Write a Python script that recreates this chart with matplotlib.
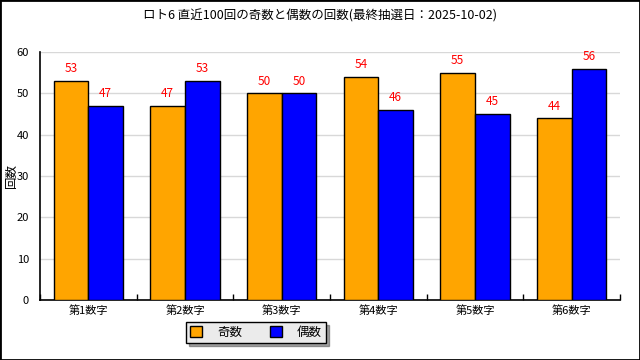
import numpy as np
import matplotlib
matplotlib.use("Agg")
import matplotlib.pyplot as plt
from matplotlib.patches import Rectangle

plt.rcParams['font.family'] = ['Noto Sans CJK JP', 'DejaVu Sans']

FONTSIZE = 8

title = "ロト6 直近100回の奇数と偶数の回数(最終抽選日：2025-10-02)"
categories = ["第1数字", "第2数字", "第3数字", "第4数字", "第5数字", "第6数字"]
odd_counts = [53, 47, 50, 54, 55, 44]
even_counts = [47, 53, 50, 46, 45, 56]
series_names = ["奇数", "偶数"]

fig = plt.figure(figsize=(6.4, 3.6), dpi=100)
fig.patches.append(Rectangle((0, 0), 1, 1, transform=fig.transFigure,
                             fill=False, ec='black', lw=2, zorder=10))
ax = fig.add_axes([0.0625, 0.1667, 0.90625, 0.6889])

x = np.arange(len(categories))
w = 0.357
b1 = ax.bar(x - w/2, odd_counts, w, color='#FFA500', ec='black', lw=1, label=series_names[0], zorder=3)
b2 = ax.bar(x + w/2, even_counts, w, color='#0000FF', ec='black', lw=1, label=series_names[1], zorder=3)

for bars in (b1, b2):
    for r in bars:
        ax.annotate(f"{int(r.get_height())}", (r.get_x() + r.get_width()/2, r.get_height()),
                    xytext=(0, 4), textcoords='offset points', ha='center', va='bottom',
                    color='red', fontsize=FONTSIZE + 0.5)

ax.set_xlim(-0.5, len(categories) - 0.5)
ax.set_ylim(0, 60)
ax.set_yticks(range(0, 61, 10))
ax.set_xticks(x)
ax.set_xticklabels(categories, fontsize=FONTSIZE)
ax.set_xticks(np.arange(-0.5, len(categories), 1), minor=True)
ax.tick_params(axis='x', which='major', length=0, pad=4)
ax.tick_params(axis='x', which='minor', direction='in', length=4, width=1)
ax.tick_params(axis='y', length=0, labelsize=FONTSIZE, pad=8)
ax.grid(axis='y', color='#d8d8d8', lw=1, zorder=0)
for s in ['top', 'right']:
    ax.spines[s].set_visible(False)
ax.spines['left'].set_linewidth(1.2)
ax.spines['bottom'].set_linewidth(1.2)
ax.set_ylabel("回数", fontsize=FONTSIZE + 1)
ax.yaxis.set_label_coords(-0.038, 0.5)

fig.suptitle(title, y=0.975, fontsize=FONTSIZE + 1)

leg = ax.legend(loc='upper center', bbox_to_anchor=(0.372, -0.065), ncol=2, frameon=True,
                fancybox=False, shadow=True, edgecolor='black', facecolor='#ebebeb',
                fontsize=FONTSIZE + 1, handlelength=1.0, handleheight=1.0,
                columnspacing=2.2, handletextpad=1.2, borderpad=0.3)
leg.get_frame().set_alpha(1)
leg.get_frame().set_linewidth(1)

fig.savefig("out.png", dpi=100)
